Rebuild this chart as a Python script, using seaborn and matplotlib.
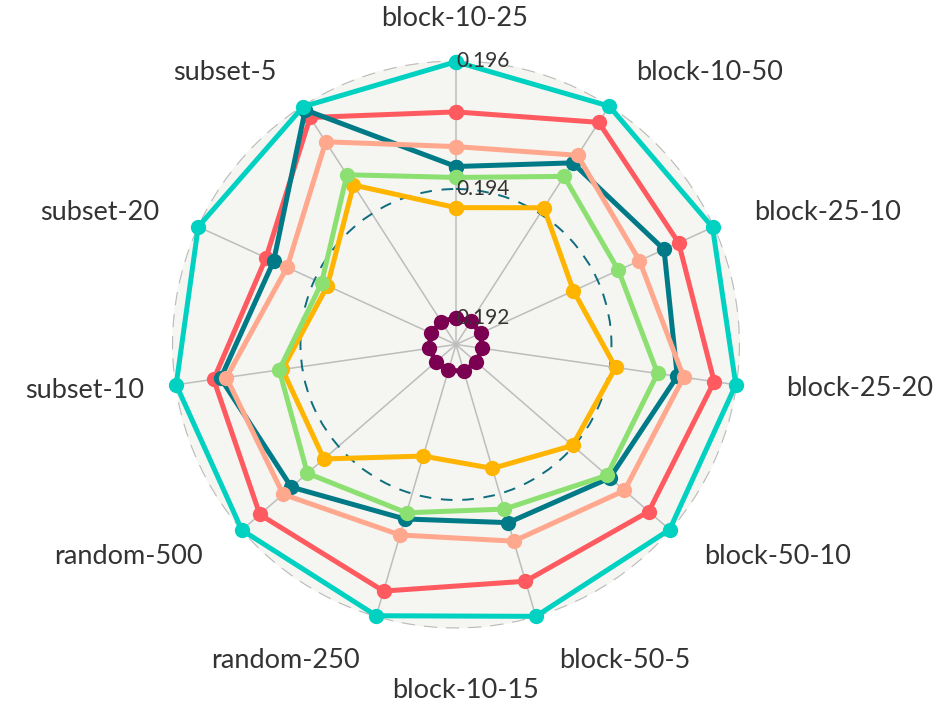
import matplotlib
matplotlib.use("Agg")
import matplotlib.pyplot as plt
import numpy as np
import pandas as pd
import seaborn as sns

# Category labels (block-10-15 has no spoke of its own in the chart)
spoke_labels = [
    "block-10-25", "block-10-50", "block-25-10", "block-25-20", "block-50-10",
    "block-50-5", "random-250", "random-500", "subset-10", "subset-20", "subset-5",
]
extra_label = "block-10-15"

# Values per series, one per spoke, clockwise from the top
s_red = [0.19520, 0.19569, 0.19539, 0.19564, 0.19555, 0.19542,
         0.19558, 0.19562, 0.19539, 0.19483, 0.19578]
s_purple = [0.19200, 0.19201, 0.19200, 0.19199, 0.19200, 0.19201,
            0.19200, 0.19199, 0.19200, 0.19201, 0.19200]
s_darkteal = [0.19435, 0.19494, 0.19514, 0.19506, 0.19475, 0.19447,
              0.19441, 0.19497, 0.19528, 0.19470, 0.19592]
s_teal = [0.19598, 0.19599, 0.19597, 0.19598, 0.19598, 0.19599,
          0.19598, 0.19599, 0.19598, 0.19599, 0.19598]
s_orange = [0.19371, 0.19411, 0.19359, 0.19409, 0.19398, 0.19359,
            0.19339, 0.19430, 0.19431, 0.19378, 0.19453]
s_green = [0.19418, 0.19469, 0.19436, 0.19475, 0.19469, 0.19425,
           0.19431, 0.19464, 0.19436, 0.19388, 0.19472]
s_salmon = [0.19466, 0.19508, 0.19472, 0.19516, 0.19505, 0.19477,
            0.19467, 0.19514, 0.19519, 0.19447, 0.19533]

series = {
    "red": s_red,
    "purple": s_purple,
    "darkteal": s_darkteal,
    "teal": s_teal,
    "orange": s_orange,
    "green": s_green,
    "salmon": s_salmon,
}
colors = {
    "red": "#ff5a5f",
    "purple": "#7b0051",
    "darkteal": "#007a87",
    "teal": "#00d1c1",
    "orange": "#ffb400",
    "green": "#8ce071",
    "salmon": "#ffa88e",
}

r_ticks = [0.192, 0.194, 0.196]

# build a long table, closing each polygon by repeating the first point
n = len(spoke_labels)
angles = np.linspace(0, 2 * np.pi, n + 1)
rows = []
for name, vals in series.items():
    closed = list(vals) + [vals[0]]
    for i, (a, v) in enumerate(zip(angles, closed)):
        rows.append({"series": name, "theta": a, "value": v, "order": i})
df = pd.DataFrame(rows)

sns.set_theme(style="white")
plt.rcParams["font.family"] = ["Lato", "DejaVu Sans"]

fig = plt.figure(figsize=(9.46, 7.06), dpi=100)
ax = fig.add_axes([0.1818, 0.1098, 0.6004, 0.8045], projection="polar")
ax.set_theta_zero_location("N")
ax.set_theta_direction(-1)
ax.set_facecolor("#f5f5f1")

sns.lineplot(
    data=df, x="theta", y="value", hue="series", hue_order=list(series.keys()),
    palette=colors, sort=False, estimator=None, errorbar=None, legend=False,
    marker="o", markersize=11, markeredgewidth=0, linewidth=3.6,
    clip_on=False, ax=ax,
)

ax.set_ylim(0.19158, 0.196)
ax.set_xticks(angles[:-1])
ax.set_xticklabels([])
ax.set_yticks(r_ticks)
ax.set_yticklabels([])
ax.set_xlabel("")
ax.set_ylabel("")
ax.xaxis.grid(True, color="#bdbdbd", linewidth=1.1, linestyle="-")
ax.yaxis.grid(True, color="#bababa", linewidth=1.6, linestyle=(0, (6, 4)))
ax.spines["polar"].set_visible(False)
grid_lines = ax.yaxis.get_gridlines()
if len(grid_lines) > 1:
    grid_lines[1].set_color("#0e6e7d")
    grid_lines[1].set_linewidth(1.4)
    grid_lines[1].set_linestyle((0, (6, 5)))

# radial tick labels along the top spoke
for t in r_ticks:
    ax.text(0, t, f"{t:.3f}", ha="left", va="center", fontsize=15,
            color="#333333", zorder=10)

# category labels, positioned around the chart (pixel centres)
label_pos = [(455, 18), (710, 72), (828, 212), (860, 388), (778, 557),
             (625, 660), (285, 660), (128, 557), (85, 390), (100, 212), (225, 72)]
for lab, (px, py) in zip(spoke_labels, label_pos):
    fig.text(px / 946, 1 - py / 706, lab, ha="center", va="center",
             fontsize=19.5, color="#333333")
fig.text(465 / 946, 1 - 690 / 706, extra_label, ha="center", va="center",
         fontsize=19.5, color="#333333")

fig.savefig("out.png", dpi=100)
